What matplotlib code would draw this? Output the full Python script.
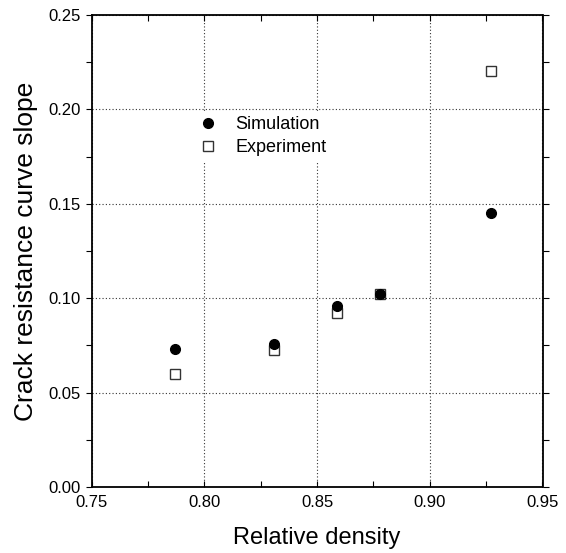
import matplotlib
matplotlib.use("Agg")
import matplotlib.pyplot as plt
from matplotlib.ticker import MultipleLocator

plt.rcParams['font.family'] = ['Liberation Sans', 'DejaVu Sans']

density_sim = [0.787, 0.831, 0.859, 0.878, 0.927]
slope_sim = [0.073, 0.076, 0.096, 0.102, 0.145]
density_exp = [0.787, 0.831, 0.859, 0.878, 0.927]
slope_exp = [0.060, 0.0725, 0.092, 0.102, 0.2205]

W, H = 566, 553
fig = plt.figure(figsize=(W/100, H/100), dpi=100)
ax = fig.add_axes([91.7/W, 1-487/H, (542.5-91.7)/W, (487-15)/H])

ax.plot(density_exp, slope_exp, linestyle='none', marker='s', markersize=7.8,
        markerfacecolor='white', markeredgecolor='#333333', markeredgewidth=1.0,
        label='Experiment', zorder=3)
ax.plot(density_sim, slope_sim, linestyle='none', marker='o', markersize=7.0,
        markerfacecolor='black', markeredgecolor='black', label='Simulation', zorder=4)

ax.set_xlim(0.75, 0.95)
ax.set_ylim(0.0, 0.25)
ax.xaxis.set_major_locator(MultipleLocator(0.05))
ax.xaxis.set_minor_locator(MultipleLocator(0.025))
ax.yaxis.set_major_locator(MultipleLocator(0.05))
ax.yaxis.set_minor_locator(MultipleLocator(0.025))
ax.xaxis.set_major_formatter(matplotlib.ticker.FormatStrFormatter('%.2f'))
ax.yaxis.set_major_formatter(matplotlib.ticker.FormatStrFormatter('%.2f'))

ax.grid(True, which='major', linestyle=(0, (1, 2)), color='#333333', linewidth=0.8)
ax.set_axisbelow(True)

for s in ax.spines.values():
    s.set_linewidth(1.3)

ax.tick_params(axis='x', which='both', direction='in', top=True, bottom=True,
               labelsize=12, pad=6)
ax.tick_params(axis='y', which='both', direction='out', left=True, right=True,
               labelsize=12, pad=4)
ax.tick_params(which='both', length=4, width=0.8)

ax.set_xlabel('Relative density', fontsize=17, labelpad=12)
ax.set_ylabel('Crack resistance curve slope', fontsize=19, labelpad=7)

handles, labels = ax.get_legend_handles_labels()
leg = ax.legend([handles[1], handles[0]], [labels[1], labels[0]],
                loc='upper left', bbox_to_anchor=(185/W, 1-111/H),
                bbox_transform=fig.transFigure, frameon=True, fontsize=13,
                handletextpad=0.5, labelspacing=0.3, borderaxespad=0,
                borderpad=0.3)
leg.get_frame().set_edgecolor('none')
leg.get_frame().set_facecolor('white')
leg.get_frame().set_alpha(1)

fig.savefig('out.png', dpi=100)
